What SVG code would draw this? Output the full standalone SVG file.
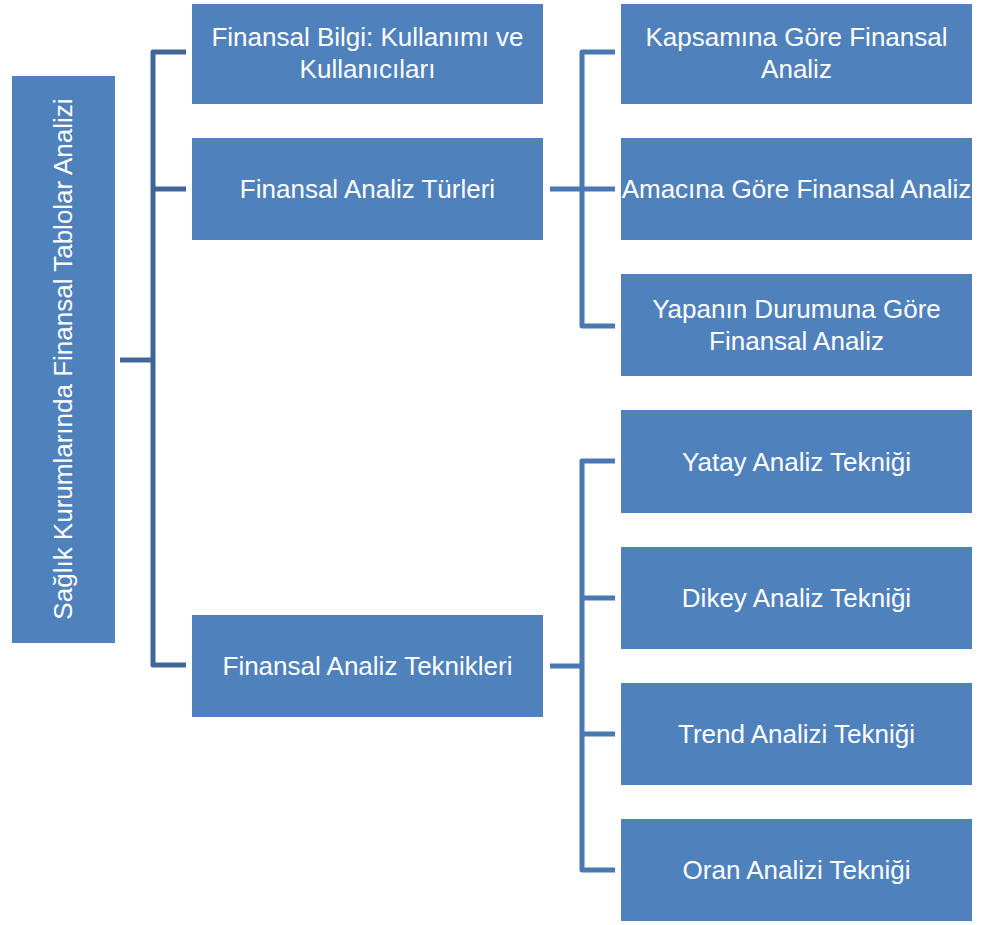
<svg xmlns="http://www.w3.org/2000/svg" width="984" height="925" viewBox="0 0 984 925">
<style>
.box{fill:#4f81bd;}
.t{fill:#ffffff;font-family:"Liberation Sans",Arial,sans-serif;font-size:26px;text-anchor:middle;}
.c1{stroke:#3e6697;stroke-width:5;fill:none;stroke-linejoin:round;}
.c2{stroke:#4a78b1;stroke-width:5;fill:none;stroke-linejoin:round;}
</style>
<rect width="984" height="925" fill="#ffffff"/>
<g id="connectors">
<path class="c1" d="M120,360 H153"/>
<path class="c1" d="M186,52 H153 V665 H186"/>
<path class="c1" d="M153,189 H186"/>
<path class="c2" d="M550,189 H615"/>
<path class="c2" d="M615,52 H582 V326 H615"/>
<path class="c2" d="M550,666 H582"/>
<path class="c2" d="M615,461 H582 V870 H615"/>
<path class="c2" d="M582,598 H615"/>
<path class="c2" d="M582,734 H615"/>
</g>
<g id="root">
<rect class="box" x="12" y="76" width="103" height="567"/>
<text class="t" transform="translate(72,359) rotate(-90)">Sağlık Kurumlarında Finansal Tablolar Analizi</text>
</g>
<g id="n1">
<rect class="box" x="192" y="4" width="351" height="100"/>
<text class="t" x="367.5" y="46">Finansal Bilgi: Kullanımı ve</text>
<text class="t" x="367.5" y="78">Kullanıcıları</text>
</g>
<g id="n2">
<rect class="box" x="192" y="138" width="351" height="102"/>
<text class="t" x="367.5" y="198">Finansal Analiz Türleri</text>
</g>
<g id="n3">
<rect class="box" x="192" y="615" width="351" height="102"/>
<text class="t" x="367.5" y="675">Finansal Analiz Teknikleri</text>
</g>
<g id="n4">
<rect class="box" x="621" y="4" width="351" height="100"/>
<text class="t" x="796.5" y="46">Kapsamına Göre Finansal</text>
<text class="t" x="796.5" y="78">Analiz</text>
</g>
<g id="n5">
<rect class="box" x="621" y="138" width="351" height="102"/>
<text class="t" x="796.5" y="198">Amacına Göre Finansal Analiz</text>
</g>
<g id="n6">
<rect class="box" x="621" y="274" width="351" height="102"/>
<text class="t" x="796.5" y="318">Yapanın Durumuna Göre</text>
<text class="t" x="796.5" y="350">Finansal Analiz</text>
</g>
<g id="n7">
<rect class="box" x="621" y="410" width="351" height="103"/>
<text class="t" x="796.5" y="471">Yatay Analiz Tekniği</text>
</g>
<g id="n8">
<rect class="box" x="621" y="547" width="351" height="102"/>
<text class="t" x="796.5" y="607">Dikey Analiz Tekniği</text>
</g>
<g id="n9">
<rect class="box" x="621" y="683" width="351" height="102"/>
<text class="t" x="796.5" y="743">Trend Analizi Tekniği</text>
</g>
<g id="n10">
<rect class="box" x="621" y="819" width="351" height="102"/>
<text class="t" x="796.5" y="879">Oran Analizi Tekniği</text>
</g>
</svg>
